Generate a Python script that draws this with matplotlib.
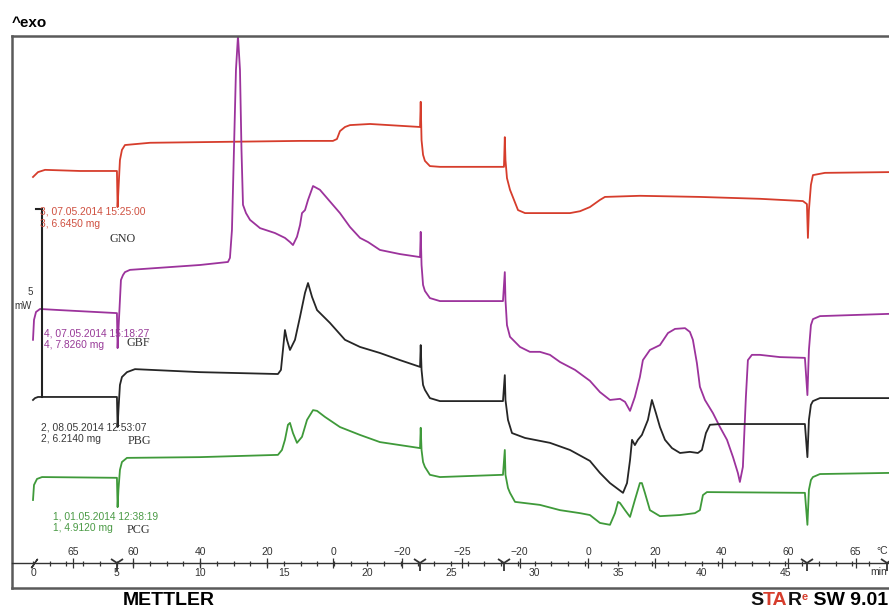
import matplotlib
matplotlib.use("Agg")
import matplotlib.pyplot as plt

plt.rcParams['font.family'] = ['Liberation Sans', 'DejaVu Sans']

# time (min) and heat flow (mW) for the four DSC runs
gno_t = [0.0, 0.30, 0.72, 2.81, 5.02, 5.06, 5.11, 5.20, 5.32, 5.50, 7.00, 15.97, 17.94, 18.18, 18.36,
         18.66, 18.96, 20.16, 23.15, 23.19, 23.24, 23.33, 23.44, 23.74, 24.34, 28.11, 28.17, 28.22,
         28.26, 28.35, 28.53, 28.77, 29.01, 29.43, 32.12, 32.72, 33.31, 33.91, 34.21, 36.30, 39.89,
         43.48, 46.05, 46.29, 46.35, 46.41, 46.53, 46.65, 47.37, 51.20]
gno_mw = [5.93, 6.06, 6.12, 6.09, 6.09, 5.13, 5.59, 6.38, 6.65, 6.78, 6.84, 6.89, 6.89, 6.94, 7.15,
          7.26, 7.31, 7.34, 7.26, 7.93, 6.91, 6.52, 6.36, 6.22, 6.20, 6.20, 6.20, 6.99,
          6.38, 5.90, 5.59, 5.32, 5.05, 4.97, 4.97, 5.02, 5.13, 5.32, 5.40, 5.43, 5.40,
          5.35, 5.29, 5.21, 4.31, 5.05, 5.72, 5.98, 6.04, 6.06]

gbf_t = [0.0, 0.06, 0.18, 0.42, 1.61, 5.02, 5.06, 5.11, 5.20, 5.26, 5.38, 5.50, 5.80, 9.99, 11.66,
         11.78, 11.90, 12.02, 12.14, 12.26, 12.38, 12.47, 12.56, 12.74, 12.98, 13.58, 14.47, 15.07,
         15.37, 15.55, 15.79, 15.97, 16.09, 16.27, 16.45, 16.75, 17.16, 18.36, 18.96, 19.56, 20.04,
         20.75, 21.95, 23.15, 23.19, 23.24, 23.33, 23.44, 23.74, 24.34, 28.11, 28.22, 28.26, 28.35,
         28.53, 29.13, 29.72, 30.32, 30.92, 31.52, 32.42, 33.31, 33.91, 34.51, 35.11, 35.41, 35.71,
         36.00, 36.30, 36.48, 36.90, 37.50, 37.98, 38.40, 39.00, 39.29, 39.47, 39.71, 39.89, 40.19,
         40.67, 41.09, 41.51, 41.87, 42.16, 42.28, 42.46, 42.58, 42.64, 42.76, 43.00, 43.48, 44.68,
         46.17, 46.32, 46.41, 46.53, 46.65, 47.07, 51.20]
gbf_mw = [1.60, 2.13, 2.34, 2.42, 2.39, 2.31, 1.38, 1.86, 2.66, 3.19, 3.32, 3.40, 3.46, 3.59, 3.67,
          3.78, 4.52, 6.65, 8.78, 9.68, 8.78, 6.65, 5.19, 4.97, 4.79, 4.57, 4.44, 4.31,
          4.20, 4.12, 4.34, 4.65, 4.97, 5.05, 5.32, 5.69, 5.59, 4.97, 4.60, 4.31, 4.20,
          3.99, 3.88, 3.80, 4.47, 3.59, 3.06, 2.90, 2.71, 2.63, 2.63, 3.40, 2.66, 1.99,
          1.68, 1.41, 1.28, 1.28, 1.20, 1.01, 0.80, 0.51, 0.21, 0.00, 0.03, -0.05, -0.29,
          0.08, 0.61, 1.06, 1.33, 1.46, 1.78, 1.89, 1.91, 1.81, 1.60, 0.98, 0.35, 0.00,
          -0.35, -0.72, -1.06, -1.52, -1.94, -2.18, -1.78, -0.53, 0.08, 1.06, 1.20, 1.20, 1.14,
          1.12, 0.13, 1.33, 1.99, 2.15, 2.23, 2.29]

pbg_t = [0.0, 0.12, 0.30, 5.02, 5.06, 5.11, 5.20, 5.32, 5.62, 6.10, 9.99, 14.65, 14.83, 14.95, 15.07,
         15.19, 15.37, 15.67, 15.97, 16.27, 16.45, 16.69, 16.99, 17.76, 18.66, 19.56, 20.75, 21.95,
         23.15, 23.19, 23.24, 23.33, 23.44, 23.74, 24.34, 28.11, 28.22, 28.26, 28.41, 28.65, 29.43,
         30.92, 32.12, 33.31, 33.91, 34.51, 35.29, 35.53, 35.71, 35.83, 36.00, 36.18, 36.42, 36.78,
         37.02, 37.26, 37.50, 37.80, 38.22, 38.70, 39.29, 39.77, 40.01, 40.25, 40.49, 41.09, 46.17,
         46.32, 46.41, 46.53, 46.65, 47.07, 51.20]
pbg_mw = [0.00, 0.05, 0.08, 0.08, -0.72, -0.27, 0.40, 0.61, 0.74, 0.82, 0.74, 0.69, 0.80, 1.33, 1.86,
          1.60, 1.33, 1.60, 2.21, 2.85, 3.11, 2.74, 2.39, 2.05, 1.60, 1.41, 1.25, 1.06,
          0.88, 1.46, 0.80, 0.40, 0.27, 0.05, -0.03, -0.03, 0.66, 0.00, -0.53, -0.88, -1.01,
          -1.14, -1.33, -1.62, -1.94, -2.21, -2.47, -2.21, -1.60, -1.06, -1.20, -1.06, -0.93, -0.53,
          0.00, -0.35, -0.72, -1.06, -1.28, -1.41, -1.38, -1.41, -1.33, -0.88, -0.66, -0.64, -0.64,
          -1.52, -0.53, -0.13, -0.03, 0.05, 0.05]

pcg_t = [0.0, 0.06, 0.24, 0.54, 5.02, 5.06, 5.11, 5.20, 5.32, 5.62, 9.99, 14.65, 14.89, 15.07, 15.25,
         15.37, 15.55, 15.79, 16.09, 16.39, 16.75, 16.99, 17.46, 18.36, 19.56, 20.75, 21.95, 23.15,
         23.19, 23.24, 23.33, 23.44, 23.74, 24.34, 28.11, 28.22, 28.26, 28.41, 28.53, 28.83, 30.32,
         31.52, 32.72, 33.31, 33.91, 34.51, 34.81, 34.99, 35.11, 35.41, 35.71, 36.00, 36.30, 36.42,
         36.60, 36.90, 37.50, 38.70, 39.59, 39.89, 40.07, 40.31, 46.17, 46.32, 46.41, 46.53, 46.65,
         47.07, 51.20]
pcg_mw = [-2.66, -2.26, -2.10, -2.05, -2.07, -2.85, -2.39, -1.86, -1.65, -1.54, -1.52, -1.46, -1.33, -1.06, -0.66,
          -0.61, -0.88, -1.14, -0.98, -0.53, -0.27, -0.29, -0.45, -0.72, -0.93, -1.12, -1.20, -1.28,
          -0.74, -1.33, -1.65, -1.78, -1.99, -2.05, -1.99, -1.33, -1.99, -2.34, -2.47, -2.71, -2.79,
          -2.93, -3.01, -3.06, -3.27, -3.32, -3.01, -2.71, -2.74, -2.93, -3.11, -2.66, -2.21, -2.21,
          -2.47, -2.93, -3.09, -3.06, -3.01, -2.93, -2.53, -2.45, -2.47, -3.32, -2.39, -2.13, -2.05,
          -1.97, -1.94]

# sample info labels
gno_info = ["3, 07.05.2014 15:25:00", "3, 6.6450 mg"]
gbf_info = ["4, 07.05.2014 15:18:27", "4, 7.8260 mg"]
pbg_info = ["2, 08.05.2014 12:53:07", "2, 6.2140 mg"]
pcg_info = ["1, 01.05.2014 12:38:19", "1, 4.9120 mg"]

# time scale and temperature program labels
time_ticks = [0, 5, 10, 15, 20, 25, 30, 35, 40, 45]
temp_pos = [2.4, 6.0, 10.0, 14.0, 17.95, 22.1, 25.65, 29.1, 33.2, 37.2, 41.2, 45.15, 49.2]
temp_labels = ["65", "60", "40", "20", "0", "\u221220", "\u221225", "\u221220", "0", "20", "40", "60", "65"]
segment_ends = [5.02, 23.17, 28.2, 46.3, 51.1]

xmin, xmax = -1.256, 51.2
ymin, ymax = -5.0, 9.68

fig = plt.figure(figsize=(8.89, 6.10), dpi=100)
ax = fig.add_axes([0.0135, 0.0361, 0.9865, 0.9049])
ax.set_xlim(xmin, xmax)
ax.set_ylim(ymin, ymax)
ax.set_xticks([])
ax.set_yticks([])
for side in ['left', 'top', 'bottom']:
    ax.spines[side].set_color('#5a5a5a')
    ax.spines[side].set_linewidth(1.8)
ax.spines['right'].set_visible(False)

runs = [
    (gno_t, gno_mw, '#d63d2c'),
    (gbf_t, gbf_mw, '#9c339c'),
    (pbg_t, pbg_mw, '#262626'),
    (pcg_t, pcg_mw, '#3f9a3a'),
]
for t, mw, col in runs:
    ax.plot(t, mw, color=col, lw=1.3, solid_joinstyle='round')

# 5 mW scale bar
ax.plot([0.54, 0.54], [0.08, 5.08], color='#222222', lw=1.5)
ax.plot([0.18, 0.54], [5.08, 5.08], color='#222222', lw=1.5)
ax.text(-0.18, 2.87, "5", fontsize=7, color='#333333', ha='center', va='center')
ax.text(-0.62, 2.50, "mW", fontsize=7, color='#333333', ha='center', va='center')

# sample annotations
info = [
    (gno_info, 0.42, 5.00, '#cf5040', "GNO", 4.6, 4.28),
    (gbf_info, 0.66, 1.78, '#983a98', "GBF", 5.62, 1.52),
    (pbg_info, 0.48, -0.72, '#3a3a3a', "PBG", 5.68, -1.09),
    (pcg_info, 1.20, -3.09, '#4a9a45', "PCG", 5.62, -3.46),
]
for lines, x0, y0, col, name, nx, ny in info:
    ax.text(x0, y0, lines[0], fontsize=7.4, color=col, ha='left', va='center')
    ax.text(x0, y0 - 0.32, lines[1], fontsize=7.4, color=col, ha='left', va='center')
    ax.text(nx, ny, name, fontsize=8.7, color='#333333', family='Liberation Serif',
            ha='left', va='center')

# time / temperature scale drawn inside the frame
tax = fig.add_axes([0.0135, 0.07705, 0.9865, 0.0001])
tax.set_xlim(xmin, xmax)
tax.set_ylim(-1, 1)
tax.set_yticks([])
tax.patch.set_visible(False)
for side in ['left', 'right', 'top']:
    tax.spines[side].set_visible(False)
tax.spines['bottom'].set_color('#333333')
tax.spines['bottom'].set_linewidth(1.0)
tax.set_xticks(time_ticks, labels=[str(v) for v in time_ticks])
tax.set_xticks(list(range(1, 51)), minor=True)
tax.tick_params(axis='x', which='both', direction='inout', length=3.6, width=0.9,
                color='#333333', labelsize=7.5, labelcolor='#333333', pad=1.5)

top = tax.secondary_xaxis('top')
top.set_xticks(temp_pos, labels=temp_labels)
top.tick_params(axis='x', direction='inout', length=7.2, width=0.9, color='#333333',
                labelsize=7.5, labelcolor='#333333', pad=1)
top.spines['top'].set_visible(False)

tax.plot(segment_ends, [0] * len(segment_ends), ls='none', marker='1', ms=11, mew=1.3,
         color='#333333', clip_on=False)
tax.plot([0.05], [0], ls='none', marker=(2, 2, -35), ms=8, mew=1.0, color='#333333', clip_on=False)

ax.text(50.1, -4.57, "min", fontsize=7.5, color='#333333', ha='left', va='center', clip_on=False)
ax.text(50.45, -4.02, "\u00b0C", fontsize=7.5, color='#333333', ha='left', va='center', clip_on=False)

# header and footer
fig.text(0.0135, 0.962, "^exo", fontsize=11, fontweight='bold', ha='left', va='center')
fig.text(0.138, 0.0148, "METTLER", fontsize=14, fontweight='bold', ha='left', va='center')

t1 = fig.text(0.999, 0.0148, " SW 9.01", fontsize=14, fontweight='bold', ha='right', va='center')
t2 = ax.annotate("e", xy=(0, 0.75), xycoords=t1, fontsize=8, fontweight='bold', color='#d63d2c',
                 ha='right', va='center', annotation_clip=False)
t3 = ax.annotate("R", xy=(0, 0.5), xycoords=(t2, t1), fontsize=14, fontweight='bold', color='#111111',
                 ha='right', va='center', annotation_clip=False)
t4 = ax.annotate("TA", xy=(0, 0.5), xycoords=t3, fontsize=14, fontweight='bold', color='#d63d2c',
                 ha='right', va='center', annotation_clip=False)
ax.annotate("S", xy=(0, 0.5), xycoords=t4, fontsize=14, fontweight='bold', color='#111111',
            ha='right', va='center', annotation_clip=False)

fig.savefig("out.png", dpi=100)
